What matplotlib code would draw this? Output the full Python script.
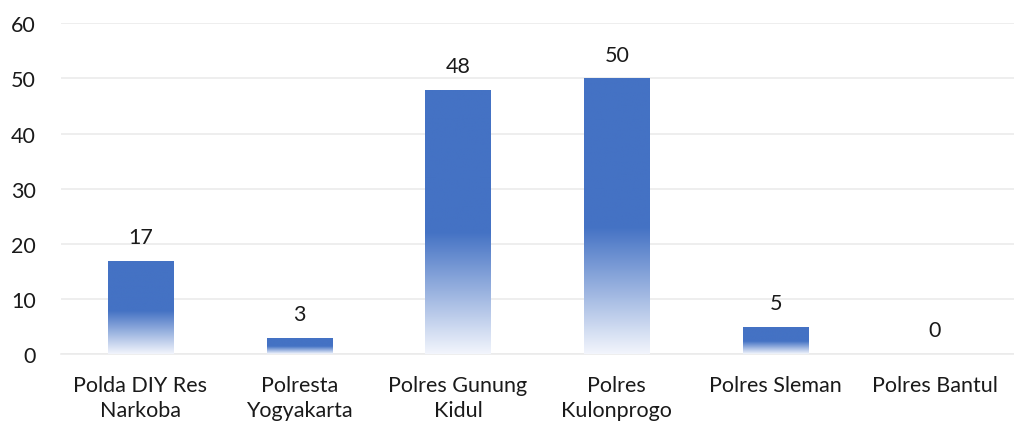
import numpy as np
import matplotlib.pyplot as plt
from matplotlib.colors import LinearSegmentedColormap

categories = ["Polda DIY Res\nNarkoba", "Polresta\nYogyakarta", "Polres Gunung\nKidul",
              "Polres\nKulonprogo", "Polres Sleman", "Polres Bantul"]
values = [17, 3, 48, 50, 5, 0]
yticks = [0, 10, 20, 30, 40, 50, 60]

plt.rcParams['font.family'] = ['Lato', 'DejaVu Sans']

fig = plt.figure(figsize=(10.14, 4.27), dpi=100)
ax = fig.add_axes([0.06, 0.168, 0.94, 0.775])

# gradient: white-ish at bottom -> solid blue from ~45% height up
cmap = LinearSegmentedColormap.from_list(
    'grad', [(0.0, '#F2F5FC'), (0.46, '#4472C4'), (1.0, '#4472C4')])
grad = np.linspace(0, 1, 256).reshape(-1, 1)

x = np.arange(len(categories))
width = 0.41
bars = ax.bar(x, values, width=width, color='none', edgecolor='none', zorder=3)
for xi, v, b in zip(x, values, bars):
    if v > 0:
        im = ax.imshow(grad, cmap=cmap, aspect='auto', origin='lower',
                       extent=[xi - width / 2, xi + width / 2, 0, v], zorder=3)
        im.set_clip_path(b)
    ax.annotate(str(v), (xi, v), xytext=(0, 10), textcoords='offset points',
                ha='center', va='bottom', fontsize=15.5, color='#1a1a1a')

ax.set_xlim(-0.5, len(categories) - 0.5)
ax.set_ylim(0, 60)
ax.set_yticks(yticks)
ax.set_xticks(x)
ax.set_xticklabels(categories, fontsize=15.5, color='#1a1a1a', linespacing=1.3)
ax.tick_params(axis='y', labelsize=15.5, colors='#1a1a1a', length=0, pad=18)
ax.tick_params(axis='x', length=0, pad=15)
ax.grid(axis='y', color='#EBEBEB', linewidth=1.2, zorder=0)
for s in ['top', 'right', 'left']:
    ax.spines[s].set_visible(False)
ax.spines['bottom'].set_color('#EBEBEB')
ax.spines['bottom'].set_linewidth(1.2)

fig.savefig('out.png', dpi=100)
